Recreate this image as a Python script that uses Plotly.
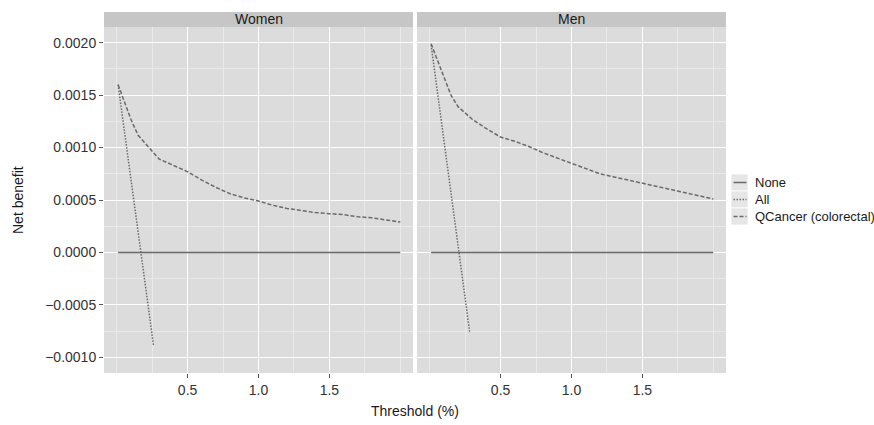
import plotly.graph_objects as go
from plotly.subplots import make_subplots

# ---- data ----
panels = ["Women", "Men"]
thr_qc = [0.01, 0.05, 0.1, 0.15, 0.2, 0.3, 0.4, 0.5, 0.6, 0.7, 0.8, 0.9, 1.0,
          1.1, 1.2, 1.3, 1.4, 1.5, 1.6, 1.7, 1.8, 1.9, 2.0]
women_qc = [0.00160, 0.00146, 0.00127, 0.00112, 0.00104, 0.00089, 0.00083, 0.00077,
            0.00069, 0.00062, 0.00056, 0.00052, 0.00049, 0.00045, 0.00042, 0.00040,
            0.00038, 0.00037, 0.00036, 0.00034, 0.00033, 0.00031, 0.00029]
men_qc = [0.00199, 0.00185, 0.00166, 0.00150, 0.00139, 0.00127, 0.00118, 0.00110,
          0.00106, 0.00101, 0.00095, 0.00090, 0.00085, 0.00080, 0.00075, 0.00072,
          0.00069, 0.00066, 0.00063, 0.00060, 0.00057, 0.00054, 0.00051]
thr_none = [0.01, 2.0]
none_nb = [0.0, 0.0]
women_all_thr = [0.01, 0.26]
women_all = [0.00160, -0.00089]
men_all_thr = [0.01, 0.283]
men_all = [0.00198, -0.00077]

x_ticks = [0.5, 1.0, 1.5]
y_ticks = [-0.0010, -0.0005, 0.0, 0.0005, 0.0010, 0.0015, 0.0020]
legend_names = ["None", "All", "QCancer (colorectal)"]

W, H = 874, 425
L, R, T, B = 104, 148, 27, 52
pw = W - L - R
ph = H - T - B

LINE = "#6a6a6a"
PANEL = "#dcdcdc"
STRIP = "#c6c6c6"
FONT = "Liberation Sans, Arial, sans-serif"
DASHES = {"None": "solid", "All": "1.5px,1.5px", "QCancer (colorectal)": "4px,2px"}

fig = make_subplots(rows=1, cols=2, shared_yaxes=True, horizontal_spacing=4 / pw)

series = {
    "Women": (women_all_thr, women_all, women_qc),
    "Men": (men_all_thr, men_all, men_qc),
}
for i, p in enumerate(panels, start=1):
    at, av, qv = series[p]
    fig.add_trace(go.Scatter(x=thr_none, y=none_nb, mode="lines", name="None",
                             line=dict(color=LINE, width=1.5, dash=DASHES["None"])), row=1, col=i)
    fig.add_trace(go.Scatter(x=at, y=av, mode="lines", name="All",
                             line=dict(color=LINE, width=1.5, dash=DASHES["All"])), row=1, col=i)
    fig.add_trace(go.Scatter(x=thr_qc, y=qv, mode="lines", name="QCancer (colorectal)",
                             line=dict(color=LINE, width=1.5,
                                       dash=DASHES["QCancer (colorectal)"])), row=1, col=i)

TICKFONT = dict(size=14, color="#333333", family=FONT)
fig.update_xaxes(range=[-0.0895, 2.0895], tickmode="array", tickvals=x_ticks,
                 tickformat=".1f", showgrid=True, gridcolor="white", gridwidth=1.2,
                 zeroline=False, ticks="outside", ticklen=4, tickcolor="#555555",
                 tickfont=TICKFONT,
                 minor=dict(tickmode="linear", tick0=0, dtick=0.25, showgrid=True,
                            gridcolor="#e9e9e9", gridwidth=0.6, ticks=""),
                 showline=False)
fig.update_yaxes(range=[-0.00115, 0.00215], tickmode="array", tickvals=y_ticks,
                 tickformat=".4f", showgrid=True, gridcolor="white", gridwidth=1.2,
                 zeroline=False, ticks="outside", ticklen=4, tickcolor="#555555",
                 tickfont=TICKFONT,
                 minor=dict(tickmode="linear", tick0=0, dtick=0.00025, showgrid=True,
                            gridcolor="#e9e9e9", gridwidth=0.6, ticks=""),
                 showline=False)
fig.update_yaxes(ticks="", showticklabels=False, row=1, col=2)

shapes = []
annotations = []

# facet strips
strip_h = 15 / ph
for i, p in enumerate(panels, start=1):
    xa = fig.layout["xaxis" if i == 1 else "xaxis2"]
    d0, d1 = xa.domain
    shapes.append(dict(type="rect", xref="paper", yref="paper", x0=d0, x1=d1,
                       y0=1, y1=1 + strip_h, fillcolor=STRIP, line=dict(width=0),
                       layer="below"))
    annotations.append(dict(text=p, xref="paper", yref="paper", x=(d0 + d1) / 2,
                            y=1 + strip_h / 2, showarrow=False, xanchor="center",
                            yanchor="middle",
                            font=dict(size=14, color="#1a1a1a", family=FONT)))


def px_x(v):
    return (v - L) / pw


def px_y(v):
    return 1 - (v - T) / ph


# axis titles
annotations.append(dict(text="Threshold (%)", xref="paper", yref="paper", x=0.5,
                        y=px_y(411), showarrow=False, xanchor="center",
                        yanchor="middle", font=dict(size=14, color="#1a1a1a", family=FONT)))
annotations.append(dict(text="Net benefit", xref="paper", yref="paper",
                        x=px_x(18), y=px_y(200),
                        showarrow=False, xanchor="center", yanchor="middle", textangle=-90,
                        font=dict(size=14, color="#1a1a1a", family=FONT)))

# legend (drawn in page coordinates)
key_x0, key_x1 = 731, 748
for k, name in enumerate(legend_names):
    top = 174 + k * 17
    shapes.append(dict(type="rect", xref="paper", yref="paper",
                       x0=px_x(key_x0), x1=px_x(key_x1), y0=px_y(top + 17), y1=px_y(top),
                       fillcolor="#e6e6e6", line=dict(color="white", width=0.8)))
    ly = top + 8.5
    shapes.append(dict(type="line", xref="paper", yref="paper",
                       x0=px_x(733.5), x1=px_x(746.5), y0=px_y(ly), y1=px_y(ly),
                       line=dict(color=LINE, width=1.5, dash=DASHES[name])))
    annotations.append(dict(text=name, xref="paper", yref="paper", x=px_x(753),
                            y=px_y(ly - 0.5), xanchor="left", yanchor="middle",
                            showarrow=False,
                            font=dict(size=13, color="#1a1a1a", family=FONT)))

fig.update_layout(
    width=W, height=H,
    margin=dict(l=L, r=R, t=T, b=B),
    paper_bgcolor="white",
    plot_bgcolor=PANEL,
    shapes=shapes,
    annotations=annotations,
    font=dict(family=FONT, size=13, color="#1a1a1a"),
    showlegend=False,
)

fig.write_html("out.html", config={"displayModeBar": False},
               post_script="document.body.style.margin='0';document.body.style.padding='0';")
